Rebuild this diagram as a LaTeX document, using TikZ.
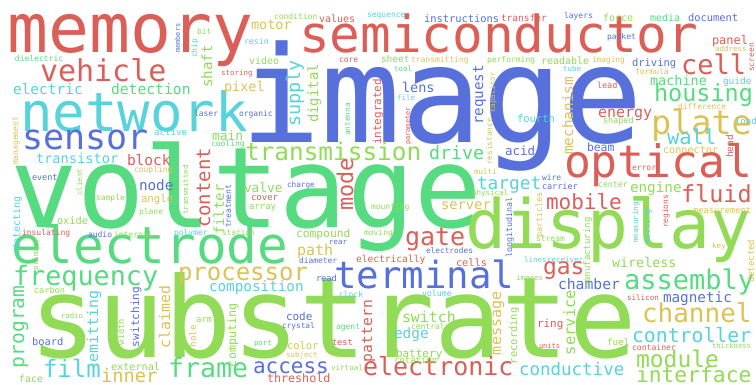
\documentclass[tikz,border=0pt]{standalone}
\usepackage{fontspec}
\newfontfamily\cloudfont{DejaVu Sans Mono}
\definecolor{cred}{HTML}{DB5F57}
\definecolor{cgold}{HTML}{DBC257}
\definecolor{clime}{HTML}{91DB57}
\definecolor{cgreen}{HTML}{57DB80}
\definecolor{ccyan}{HTML}{57D3DB}
\definecolor{cblue}{HTML}{5770DB}
\tikzset{cloud/.style={inner sep=0pt,outer sep=0pt,anchor=base west}}
% horizontal and upright words: x, baseline, size, colour, text
\newcommand\cw[5]{\node[cloud,text=#4,font=\cloudfont\fontsize{#3}{#3}\selectfont] (w-#5) at (#1,#2) {#5};}
\newcommand\cv[5]{\node[cloud,rotate=90,text=#4,font=\cloudfont\fontsize{#3}{#3}\selectfont] (w-#5) at (#1,#2) {#5};}
\begin{document}
\begin{tikzpicture}[x=1pt,y=-1pt]
\fill[white] (0,0) rectangle (756,385);
\useasboundingbox (0,0) rectangle (756,385);
% big words
\cw{240}{143}{134}{cblue}{image}
\cw{10}{228}{112}{cgreen}{voltage}
\cw{30}{357}{112}{clime}{substrate}
\cw{8}{53}{68}{cred}{memory}
\cw{299}{53}{51}{cred}{semiconductor}
\cw{465}{248}{68}{clime}{display}
\cw{20}{132}{54}{ccyan}{network}
\cw{12}{264}{51}{cgreen}{electrode}
\cw{564}{178}{44.7}{cred}{optical}
\cw{334}{288}{37.4}{cblue}{terminal}
\cw{22}{150}{35}{cblue}{sensor}
\cw{651}{135}{33.5}{cgold}{plate}
\cw{40}{82}{30}{cred}{vehicle}
\cw{624}{290}{27}{cgreen}{assembly}
\cw{13}{285}{26.8}{cgreen}{frequency}
\cw{168}{377}{26.6}{cgreen}{frame}
\cw{642}{323}{26}{cgold}{channel}
\cw{681}{75}{27}{cred}{cell}
\cw{405}{246}{25}{cred}{gate}
\cw{363}{375}{25}{cred}{electronic}
\cw{245}{161}{24.4}{clime}{transmission}
\cw{178}{280}{24}{cgold}{processor}
\cw{43}{377}{24}{ccyan}{film}
\cw{654}{102}{23.5}{cgreen}{housing}
\cw{681}{203}{23.5}{cred}{fluid}
\cw{543}{275}{23}{cred}{gas}
\cw{636}{367}{23}{clime}{module}
\cw{636}{382}{21.3}{clime}{interface}
\cw{546}{210}{21}{cred}{mobile}
\cw{253}{373}{21}{cblue}{access}
\cw{667}{145}{20.5}{ccyan}{wall}
\cw{632}{342}{19.8}{ccyan}{controller}
\cw{101}{382}{18.7}{cgold}{inner}
\cw{429}{160}{18.3}{cgreen}{drive}
\cw{477}{190}{17.8}{ccyan}{target}
\cw{519}{375}{17.5}{ccyan}{conductive}
% middle words
\cw{598}{118}{15}{cred}{energy}
\cw{297}{256}{15}{cgold}{path}
\cw{402}{322}{14.9}{clime}{switch}
\cw{558}{290}{14.7}{cblue}{chamber}
\cw{13}{95}{14.5}{ccyan}{electric}
\cw{111}{95}{14.7}{cgreen}{detection}
\cw{127}{166}{14.5}{cred}{block}
\cw{394}{338}{14.4}{ccyan}{edge}
\cw{139}{191}{14.3}{cblue}{node}
\cw{630}{193}{14.3}{clime}{engine}
\cw{209}{291}{14.3}{ccyan}{composition}
\cw{663}{302}{14.3}{cblue}{magnetic}
\cw{441}{210}{13.8}{cgold}{server}
\cw{36}{164}{13.7}{ccyan}{transistor}
\cw{251}{30}{13.5}{cgold}{motor}
\cw{224}{92}{13.5}{cgold}{pixel}
\cw{402}{93}{13.5}{cblue}{lens}
\cw{650}{86}{13.5}{cgreen}{machine}
\cw{612}{268}{13.4}{clime}{wireless}
\cw{212}{141}{13}{clime}{main}
\cw{505}{156}{12.5}{cblue}{acid}
\cw{244}{193}{12.8}{clime}{valve}
\cw{712}{45}{12}{cred}{panel}
\cw{267}{382}{11.7}{cred}{threshold}
\cw{587}{152}{11.4}{cblue}{beam}
\cw{296}{237}{11.3}{clime}{compound}
\cw{286}{320}{11}{cblue}{code}
\cw{537}{327}{11}{cred}{ring}
\cw{396}{357}{11}{clime}{battery}
\cw{141}{203}{10.7}{cgold}{angle}
\cw{517}{123}{10.5}{ccyan}{fourth}
\cw{632}{67}{10.5}{cblue}{driving}
\cw{424}{23}{10.4}{cblue}{instructions}
\cw{688}{22}{10.4}{cblue}{document}
\cw{32}{345}{10.4}{cblue}{board}
\cw{287}{349}{10.4}{cgold}{color}
\cw{57}{225}{10.3}{clime}{oxide}
\cw{456}{267}{10.3}{cred}{cells}
\cw{663}{154}{10.2}{cgold}{connector}
\cw{111}{370}{10.2}{clime}{external}
\cw{319}{23}{10}{cred}{values}
\cw{249}{65}{10}{clime}{video}
\cw{541}{65}{10}{clime}{readable}
\cw{603}{22}{10}{clime}{force}
\cw{650}{22}{10}{cgreen}{media}
\cw{19}{382}{10}{clime}{face}
\cw{356}{262}{9.6}{cred}{electrically}
\cw{501}{22}{9.5}{cred}{transfer}
\cw{381}{63}{9.5}{clime}{sheet}
\cw{723}{85}{9.5}{ccyan}{guide}
\cw{607}{345}{9.3}{clime}{fuel}
\cw{154}{136}{9.2}{ccyan}{active}
\cw{251}{201}{9}{cred}{cover}
\cw{249}{210}{9}{clime}{array}
\cw{735}{125}{9}{ccyan}{load}
\cw{394}{363}{9}{clime}{rotation}
% small words
\cw{693}{214}{8.8}{cgold}{measurement}
\cw{196}{323}{8.8}{clime}{arm}
\cw{316}{281}{8.7}{cblue}{read}
\cw{332}{345}{8.7}{cred}{test}
\cw{34}{294}{8.6}{clime}{carbon}
\cw{597}{89}{8.5}{cred}{lead}
\cw{603}{124}{8.5}{clime}{shaped}
\cw{32}{181}{8.5}{cblue}{event}
\cw{542}{190}{8.5}{cblue}{carrier}
\cw{598}{188}{8.3}{clime}{center}
\cw{244}{45}{8.3}{ccyan}{resin}
\cw{422}{297}{8.3}{ccyan}{volume}
\cw{632}{350}{8.1}{cred}{container}
\cw{367}{18}{8}{ccyan}{sequence}
\cw{15}{62}{8}{cgreen}{dielectric}
\cw{274}{20}{8}{clime}{condition}
\cw{197}{35}{8}{clime}{bit}
\cw{339}{63}{8}{cred}{core}
\cw{194}{117}{8}{cblue}{laser}
\cw{239}{117}{8}{cblue}{organic}
\cw{564}{19}{8}{cblue}{layers}
\cw{411}{63}{8}{cgold}{transmitting}
\cw{487}{63}{8}{clime}{performing}
\cw{607}{40}{8}{cblue}{packet}
\cw{635}{75}{8}{cgold}{formula}
\cw{678}{110}{8}{cgold}{difference}
\cw{134}{173}{8}{cgold}{coupling}
\cw{96}{201}{8}{clime}{sample}
\cw{139}{215}{8}{clime}{plane}
\cw{22}{236}{8}{cred}{insulating}
\cw{88}{237}{8}{cblue}{audio}
\cw{114}{238}{8}{clime}{internal}
\cw{174}{236}{8}{ccyan}{polymer}
\cw{211}{147}{8}{cgreen}{cooling}
\cw{364}{236}{8}{clime}{moving}
\cw{371}{210}{8}{clime}{mounting}
\cw{542}{181}{8}{cblue}{wire}
\cw{536}{242}{8}{clime}{stream}
\cw{632}{171}{8}{cred}{error}
\cw{339}{298}{8}{ccyan}{clock}
\cw{336}{330}{8}{cgreen}{agent}
\cw{411}{330}{8}{clime}{central}
\cw{299}{263}{7.9}{cblue}{diameter}
\cw{426}{254}{7.8}{cblue}{electrodes}
\cw{592}{63}{7.8}{cgold}{imaging}
\cw{222}{236}{7.8}{clime}{station}
\cw{282}{328}{7.8}{cblue}{crystal}
\cw{287}{188}{7.7}{cblue}{charge}
\cw{474}{175}{7.6}{cgold}{multi}
\cw{712}{248}{7.6}{cgold}{key}
\cw{627}{300}{7.6}{cred}{silicon}
\cw{331}{370}{7.6}{clime}{virtual}
\cw{221}{76}{7.5}{cred}{storing}
\cw{394}{72}{7.5}{cgreen}{tool}
\cw{563}{72}{7.5}{ccyan}{tube}
\cw{397}{101}{7.5}{ccyan}{file}
\cw{715}{52}{7.5}{cgold}{address}
\cw{472}{196}{7.5}{clime}{physical}
\cw{329}{244}{7.5}{cblue}{rear}
\cw{286}{357}{7.5}{cgold}{subject}
\cw{524}{262}{7.5}{ccyan}{lines}
\cw{547}{262}{7.5}{ccyan}{receiver}
\cw{516}{280}{7.5}{clime}{images}
\cw{254}{345}{7.4}{cgreen}{port}
\cw{61}{318}{7.3}{clime}{radio}
\cw{712}{348}{7.2}{clime}{thickness}
\cw{539}{348}{7}{cred}{units}
% upright words
\cv{300}{127}{18.5}{ccyan}{supply}
\cv{24}{368}{19.6}{cgreen}{program}
\cv{210}{228}{19}{cred}{content}
\cv{353}{211}{21.8}{cred}{mode}
\cv{318}{123}{14}{clime}{digital}
\cv{212}{88}{14.3}{clime}{shaft}
\cv{483}{125}{14.2}{cblue}{request}
\cv{573}{155}{14.4}{cgold}{mechanism}
\cv{224}{235}{14}{clime}{filter}
\cv{98}{362}{14.9}{ccyan}{emitting}
\cv{170}{348}{14.9}{cgold}{claimed}
\cv{372}{362}{14.7}{cred}{pattern}
\cv{501}{355}{15.1}{cgold}{message}
\cv{575}{355}{15.4}{clime}{service}
\cv{381}{145}{11}{cred}{integrated}
\cv{139}{347}{11.1}{cblue}{switching}
\cv{236}{367}{11.7}{clime}{computing}
\cv{517}{364}{10.4}{clime}{recording}
\cv{20}{251}{10}{ccyan}{detecting}
\cv{733}{158}{9.5}{cred}{head}
\cv{590}{288}{9}{clime}{manufacturing}
\cv{754}{283}{9}{cgold}{detected}
\cv{196}{347}{9}{cgold}{hole}
\cv{124}{345}{8.6}{clime}{width}
\cv{542}{238}{8.5}{cgold}{particles}
\cv{650}{245}{8.5}{ccyan}{setting}
\cv{512}{258}{8.4}{cblue}{longitudinal}
\cv{18}{165}{8}{cgold}{management}
\cv{197}{58}{8}{ccyan}{chip}
\cv{754}{72}{8}{cred}{screen}
\cv{231}{228}{8}{cblue}{treatment}
\cv{350}{136}{7.8}{cgreen}{antenna}
\cv{492}{165}{7.8}{cgold}{resistance}
\cv{668}{228}{7.8}{cred}{regions}
\cv{495}{113}{7.5}{cgold}{capacitor}
\cv{82}{196}{7.5}{clime}{client}
\cv{188}{215}{7.5}{clime}{transmitted}
\cv{638}{243}{7.5}{ccyan}{measuring}
\cv{38}{270}{7.3}{clime}{primary}
\cv{180}{53}{7}{cblue}{members}
\cv{410}{145}{7}{cred}{parameter}
\end{tikzpicture}
\end{document}
